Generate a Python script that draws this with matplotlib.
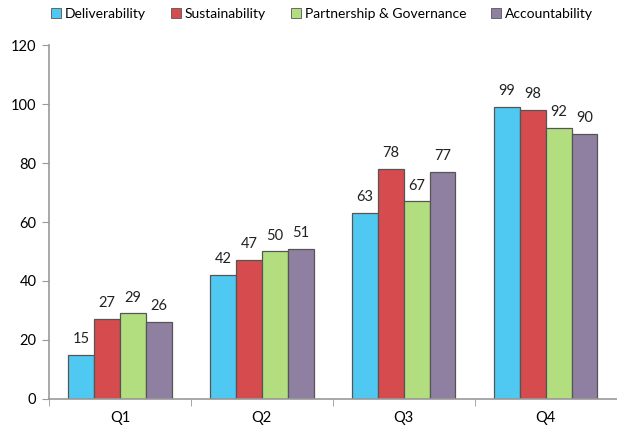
import numpy as np
import matplotlib
matplotlib.use('Agg')
import matplotlib.pyplot as plt

plt.rcParams['font.family'] = ['Lato', 'DejaVu Sans']

# Daten
quarters = ['Q1', 'Q2', 'Q3', 'Q4']
series = ['Deliverability', 'Sustainability', 'Partnership & Governance', 'Accountability']
deliverability = [15, 42, 63, 99]
sustainability = [27, 47, 78, 98]
partnership = [29, 50, 67, 92]
accountability = [26, 51, 77, 90]
colors = ['#4FC8F2', '#D64B4E', '#B3DE80', '#8F7FA1']

values = [deliverability, sustainability, partnership, accountability]

fig = plt.figure(figsize=(6.17, 4.28), dpi=100)
ax = fig.add_axes([0.0794, 0.0678, 0.92, 0.827])

x = np.arange(len(quarters))
w = 0.182
for i, (name, vals) in enumerate(zip(series, values)):
    pos = x + (i - 1.5) * w
    bars = ax.bar(pos, vals, w, color=colors[i], edgecolor='#555555', linewidth=0.9, label=name)
    for b, v in zip(bars, vals):
        ax.text(b.get_x() + b.get_width() / 2, v + 3, str(v), ha='center', va='bottom', fontsize=10.5, color='#222222')

ax.set_xlim(-0.5, 3.5)
ax.set_ylim(0, 120)
ax.set_yticks(range(0, 121, 20))
ax.set_xticks(x)
ax.set_xticklabels(quarters)
ax.set_xticks(np.arange(-0.5, 4.0, 1.0), minor=True)
ax.tick_params(axis='x', which='major', length=0, pad=9, labelsize=10.5)
ax.tick_params(axis='x', which='minor', length=5, color='#999999', direction='out')
ax.tick_params(axis='y', length=5, color='#999999', labelsize=10.5, pad=4)

for s in ['top', 'right']:
    ax.spines[s].set_visible(False)
for s in ['left', 'bottom']:
    ax.spines[s].set_color('#999999')
    ax.spines[s].set_linewidth(1.2)

leg = fig.legend(loc='center', bbox_to_anchor=(0.522, 0.967), ncol=4, frameon=False,
                 fontsize=10, handlelength=0.7, handleheight=0.7, handletextpad=0.3, columnspacing=1.8)
for h in leg.legend_handles:
    h.set_linewidth(0.6)

fig.savefig('out.png', dpi=100)
